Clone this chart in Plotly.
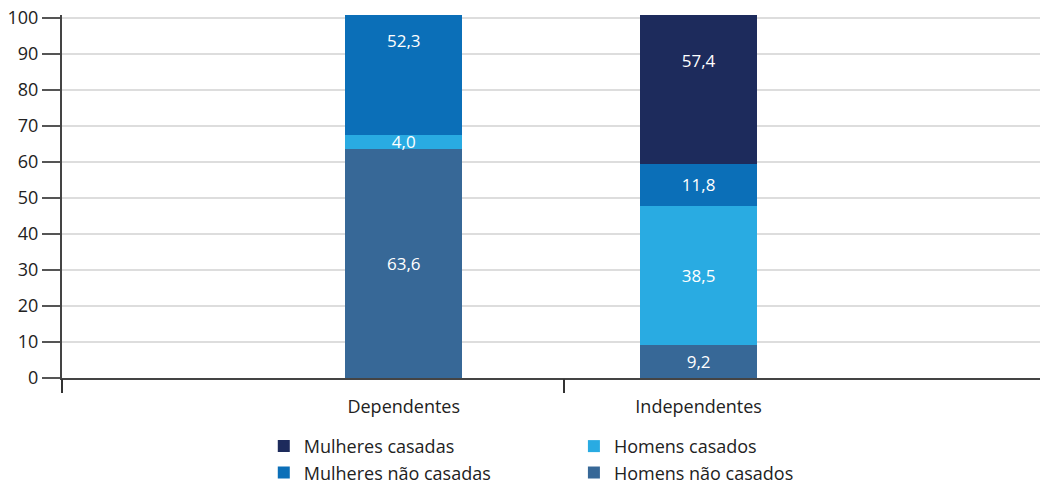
import plotly.graph_objects as go

# categorias e séries (valores em %)
categorias = ["Dependentes", "Independentes"]
homens_nao_casados = [63.6, 9.2]
homens_casados = [4.0, 38.5]
mulheres_nao_casadas = [52.3, 11.8]
mulheres_casadas = [None, 57.4]

series = [
    ("Homens não casados", homens_nao_casados, "#376897", "legend2"),
    ("Homens casados", homens_casados, "#29abe2", "legend2"),
    ("Mulheres não casadas", mulheres_nao_casadas, "#0b6fb8", "legend"),
    ("Mulheres casadas", mulheres_casadas, "#1d2b5c", "legend"),
]

FONT = "Open Sans"

fig = go.Figure()
for nome, valores, cor, leg in series:
    fig.add_trace(go.Bar(
        x=categorias, y=valores, name=nome, marker_color=cor,
        marker_line_width=0, width=0.397, legend=leg,
        texttemplate="%{y:.1f}", textposition="inside",
        insidetextanchor="middle",
        textfont=dict(color="white", size=17, family=FONT),
    ))

# eixo auxiliar só para as marcas de divisão no eixo x
fig.add_trace(go.Scatter(x=[0, 1], y=[0, 0], xaxis="x2", mode="none",
                         showlegend=False, hoverinfo="skip"))

# a página tem 8 px de margem no body: as margens compensam isso
fig.update_layout(
    width=1048, height=483,
    barmode="stack",
    separators=",.",
    plot_bgcolor="white", paper_bgcolor="white",
    margin=dict(l=54, r=0, t=7, b=113, autoexpand=False),
    font=dict(family=FONT, size=18, color="#222222"),
    uniformtext=dict(minsize=17, mode="show"),
    xaxis=dict(range=[-1.159, 2.212], showgrid=False, ticks="",
               showline=True, linecolor="#444444", linewidth=2,
               tickfont=dict(size=18), ticklabelstandoff=11,
               automargin=False),
    xaxis2=dict(overlaying="x", range=[0, 1.98], showgrid=False,
                showticklabels=False, ticks="outside", ticklen=14,
                tickcolor="#333333", tickwidth=1.5, tickvals=[0, 1],
                zeroline=False, side="bottom", automargin=False),
    yaxis=dict(range=[0, 100.8], tickvals=list(range(0, 101, 10)),
               showgrid=True, gridcolor="#dddddd", gridwidth=1.5,
               zeroline=False, showline=True, linecolor="#444444",
               linewidth=2, ticks="outside", ticklen=18,
               tickcolor="#555555", tickwidth=2, tickfont=dict(size=18),
               ticklabeloverflow="allow", automargin=False),
    legend=dict(orientation="v", traceorder="reversed", x=0.203, y=-0.1375,
                xanchor="left", yanchor="top", font=dict(size=18),
                bgcolor="rgba(0,0,0,0)"),
    legend2=dict(orientation="v", traceorder="reversed", x=0.515, y=-0.1375,
                 xanchor="left", yanchor="top", font=dict(size=18),
                 bgcolor="rgba(0,0,0,0)"),
)

fig.write_html("out.html")
